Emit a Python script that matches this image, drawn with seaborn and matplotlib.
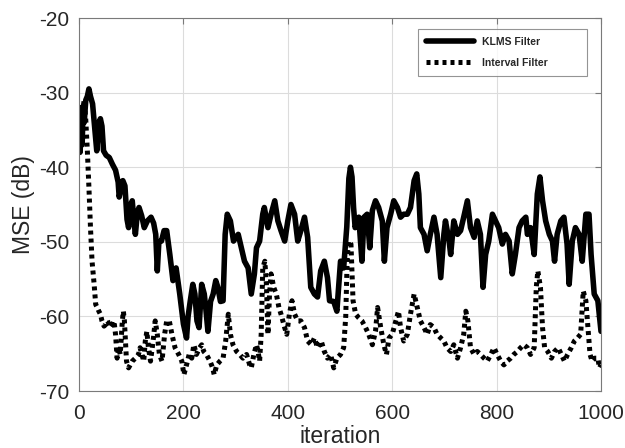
import matplotlib
matplotlib.use("Agg")
import matplotlib.pyplot as plt
import seaborn as sns
import pandas as pd

klms_x = [0,2,4,6,8,10,13,16,19,22,26,30,34,38,41,44,47,52,58,64,70,75,77,80,84,88,92,95,99,102,105,108,112,115,120,125,131,138,143,147,150,153,158,163,168,174,180,186,193,200,206,209,213,218,222,226,230,235,240,243,247,252,257,262,266,271,276,280,284,290,296,305,311,317,324,330,336,340,346,352,355,362,368,375,381,387,394,400,406,413,419,425,432,438,444,451,457,463,470,476,480,488,494,501,507,513,517,520,523,526,529,536,542,546,552,557,562,568,574,581,585,590,597,603,610,616,622,629,635,642,647,651,654,661,667,673,680,686,693,699,702,709,712,718,725,731,737,744,750,757,763,769,774,779,785,792,798,804,811,817,824,830,836,843,849,856,859,865,872,878,883,888,894,901,907,911,916,923,929,935,939,945,951,958,964,971,977,981,987,994,1000]
klms_y = [-33,-38,-32,-37,-32,-34,-31,-30.5,-29.5,-30.5,-31.5,-34.6,-37.8,-34,-33.5,-34.5,-37.8,-38.4,-38.7,-39.6,-40.4,-42,-44,-43,-41.8,-42.5,-47,-48.1,-45,-44.5,-47,-49,-46,-45.4,-46.5,-48.1,-47.2,-46.7,-47.5,-49,-53.9,-50,-49.9,-48.5,-48.5,-51.7,-55.2,-53.5,-57,-61,-62.9,-60,-58,-55.7,-57,-60.6,-61.5,-55.7,-57,-59,-62,-58,-57,-55.2,-56.1,-58,-57.9,-49,-46.3,-47.2,-49.9,-49,-50.8,-52.6,-53.5,-57,-54.3,-50.8,-49.9,-46.3,-45.4,-48.1,-46.3,-44.5,-47.2,-48.5,-49.9,-47.2,-45,-46.3,-49.9,-48.5,-46.7,-49.4,-56.1,-57,-57.4,-53.9,-52.6,-54.8,-57.9,-58,-59.3,-52.6,-53.5,-48,-41.5,-40,-41.3,-45.4,-48.1,-46.7,-52.6,-46.7,-46.3,-50.8,-45.8,-44.5,-45.4,-47.2,-52.6,-48.1,-46.3,-44.5,-45.4,-46.7,-46.3,-46.3,-45.4,-41.8,-40.9,-43.6,-48.1,-49,-51.2,-49,-46.7,-49,-54.8,-49,-47.2,-49.9,-51.7,-47.2,-49,-48.5,-46.7,-44.5,-48.1,-49.4,-47.2,-49,-56.1,-51.7,-49.9,-46.3,-47.2,-48.1,-50.3,-49,-49.9,-54.3,-51.7,-48.1,-47.2,-46.7,-49,-48.1,-51.7,-43.6,-41.3,-44.5,-47.2,-49,-49.9,-52.6,-49,-47.2,-46.7,-50.3,-55.7,-49.9,-48.1,-49,-52.6,-46.3,-46.3,-51.7,-57,-57.9,-62]

intv_x = [0,3,6,10,13,16,19,22,25,29,32,35,38,41,44,48,51,54,57,60,64,67,70,73,76,79,83,85,87,91,95,102,108,114,117,124,127,130,133,137,142,146,150,154,159,164,168,173,178,184,191,197,201,206,211,216,220,225,231,235,239,244,251,256,259,264,270,276,281,286,290,295,302,308,314,321,327,330,335,340,343,346,349,352,356,359,362,365,368,373,378,383,387,394,398,403,408,413,419,425,432,438,445,451,457,464,470,476,482,488,494,501,507,511,514,517,521,525,530,536,542,549,555,562,568,572,578,584,589,594,600,607,612,616,622,629,635,642,648,654,661,667,673,680,686,693,699,705,712,718,725,731,737,741,745,750,757,763,769,776,782,789,795,801,808,814,820,827,833,840,846,852,859,865,872,876,879,884,888,892,898,905,911,918,924,930,936,943,949,955,961,966,971,975,979,983,988,994,997,1000]
intv_y = [-32,-32,-32.8,-31,-33.7,-37.8,-42.7,-48.1,-52.6,-55.7,-58.4,-58.8,-59.3,-59.7,-60.6,-61.3,-61.1,-60.6,-60.9,-60.6,-61.1,-60.6,-62.4,-65.6,-64.2,-65.1,-60.6,-59.3,-60.6,-66,-66.9,-66,-65.6,-65.1,-64.2,-66,-63.3,-62,-64.2,-66,-63.3,-60.6,-62.4,-65.1,-66,-62.4,-60.6,-60.6,-62.4,-64.2,-65.1,-66,-67.8,-66.5,-65.1,-65.6,-63.8,-65.1,-64.2,-63.8,-64.7,-65.1,-66,-66.9,-67.8,-66.5,-66,-65.6,-63.3,-59.7,-62.4,-63.8,-64.7,-65.1,-65.6,-65.1,-66.5,-66.9,-65.1,-63.8,-64.7,-66,-62.4,-53.5,-52.6,-55.7,-62.4,-57,-54.3,-56.1,-57,-58.8,-59.7,-61.5,-62.4,-59.7,-57.9,-59.7,-60.6,-60.6,-61.5,-63.3,-63.8,-62.9,-64.2,-63.3,-64.7,-65.6,-65.1,-66.9,-65.6,-65.1,-64.2,-60,-51.7,-49.9,-50.3,-57.9,-59.7,-60.2,-60.6,-61.5,-62.4,-63.8,-62,-58.8,-61.5,-63.8,-65.1,-62.9,-62.4,-60.6,-59.3,-61.5,-63.3,-62.4,-59.7,-57,-58.8,-60.6,-61.5,-62.4,-61.1,-61.5,-62.4,-62.9,-63.3,-64.2,-64.7,-63.8,-65.6,-64.2,-62.4,-59.3,-60.6,-64.2,-65.1,-64.7,-65.1,-65.6,-66,-65.1,-64.2,-65.1,-66,-66.5,-66,-65.6,-65.1,-64.7,-64.2,-63.8,-64.2,-65.1,-64.2,-56.1,-53.9,-56.1,-61.5,-64.2,-64.7,-65.6,-64.7,-64.2,-65.1,-66,-65.1,-64.2,-63.3,-62.9,-62.4,-56.6,-57.9,-61.5,-65.1,-66,-65.6,-65.6,-66.9,-66.5]

labels = ["KLMS Filter", "Interval Filter"]
x_ticks = [0, 200, 400, 600, 800, 1000]
y_ticks = [-70, -60, -50, -40, -30, -20]

sns.set_style("white")
plt.rcParams['font.family'] = ['Liberation Sans', 'DejaVu Sans']
plt.rcParams['axes.unicode_minus'] = False

fig = plt.figure(figsize=(6.25, 4.48), dpi=100)
ax = fig.add_axes([0.1264, 0.1272, 0.8352, 0.8326])

df1 = pd.DataFrame({"iteration": klms_x, "mse": klms_y})
df2 = pd.DataFrame({"iteration": intv_x, "mse": intv_y})
sns.lineplot(data=df1, x="iteration", y="mse", ax=ax, color="black",
             linewidth=4, label=labels[0], sort=False)
sns.lineplot(data=df2, x="iteration", y="mse", ax=ax, color="black",
             linewidth=3.6, linestyle=(0, (0.8, 0.8)), label=labels[1], sort=False)

ax.set_xlim(0, 1000)
ax.set_ylim(-70, -20)
ax.set_xticks(x_ticks)
ax.set_yticks(y_ticks)
ax.grid(True, color="#dcdcdc", linewidth=0.8)
ax.set_axisbelow(True)
for s in ax.spines.values():
    s.set_color("#7a7a7a")
    s.set_linewidth(0.8)
ax.tick_params(direction="in", length=4, width=0.8, color="#7a7a7a",
               labelsize=15, labelcolor="#262626", top=True, right=True)
ax.tick_params(axis="x", pad=9)
ax.tick_params(axis="y", pad=7)
ax.set_xlabel("iteration", fontsize=16.5, color="#262626", labelpad=2)
ax.set_ylabel("MSE (dB)", fontsize=16.5, color="#262626", labelpad=3)

leg = ax.legend(loc="upper left", bbox_to_anchor=(0.649, 0.839, 0.324, 0.131),
                mode="expand", borderaxespad=0, fancybox=False, frameon=True,
                handlelength=4.6, prop={"weight": "bold", "size": 7.5},
                borderpad=0.75, labelspacing=1.05, handletextpad=0.8)
leg.get_frame().set_edgecolor("#7a7a7a")
leg.get_frame().set_linewidth(0.8)
for t in leg.get_texts():
    t.set_color("#262626")

fig.savefig("out.png", dpi=100)
